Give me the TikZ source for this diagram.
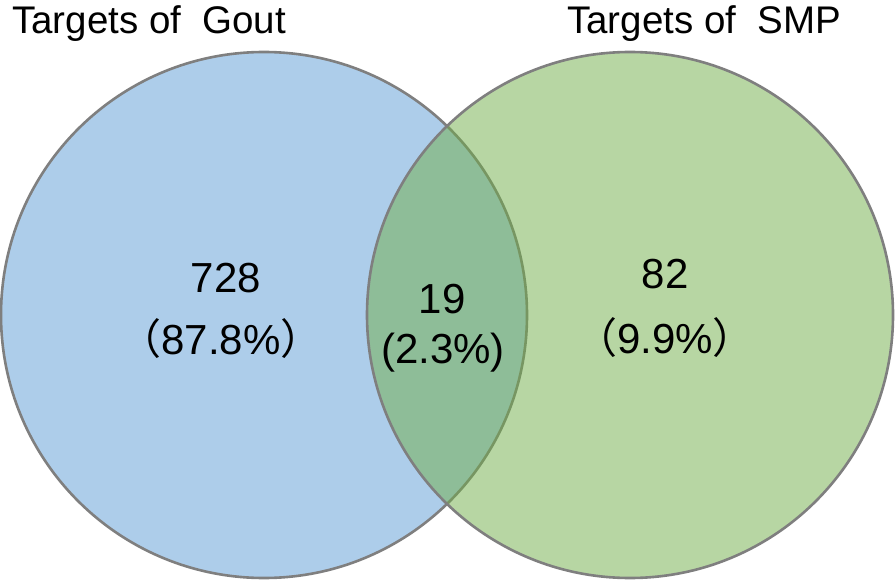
\documentclass[tikz,border=0pt]{standalone}
\usepackage{fontspec}
\setmainfont{Liberation Sans}
\newfontfamily\cjk{Noto Sans CJK SC}
\definecolor{vblue}{HTML}{5B9BD5}
\definecolor{vgreen}{HTML}{70AD47}
\definecolor{vline}{HTML}{7F7F7F}
\begin{document}
\begin{tikzpicture}[x=1pt,y=-1pt,
  setcircle/.style={draw=vline, line width=2.6pt, fill opacity=0.5},
  num/.style={anchor=base, font=\fontsize{42}{50}\selectfont, inner sep=0pt},
  settitle/.style={anchor=base west, font=\fontsize{38.5}{46}\selectfont, inner sep=0pt}]
\useasboundingbox (0,0) rectangle (896,580);
\path[setcircle, fill=vblue] (264,315) circle[radius=263];
\path[setcircle, fill=vgreen] (630,315) circle[radius=263];
\node[settitle] (tgout) at (12,34) {Targets of\ \ Gout};
\node[settitle] (tsmp) at (567,34) {Targets of\ \ SMP};
\node[num] (n728) at (226,292) {728};
\node[num] (p728) at (221,354) {{\cjk （}87.8\%{\cjk ）}};
\node[num] (n19) at (442,313) {19};
\node[num] (p19) at (443,363) {(2.3\%)};
\node[num] (n82) at (665,288) {82};
\node[num] (p82) at (665,353) {{\cjk （}9.9\%{\cjk ）}};
\end{tikzpicture}
\end{document}
